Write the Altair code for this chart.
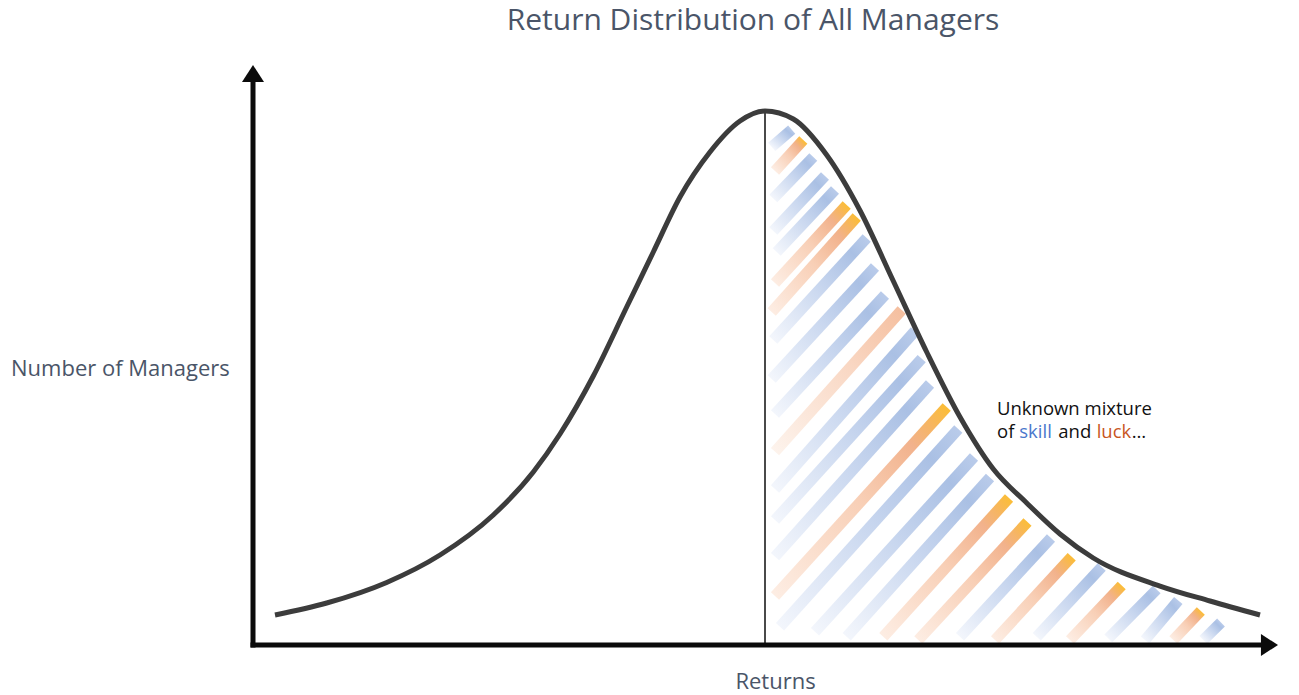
import altair as alt
import pandas as pd

# ---- data ----
curve_return = [2.2, 7.37, 13.37, 18.7, 24.03, 28.03, 30.7, 34.03, 37.37, 40.03, 42.7, 45.7, 48.7, 51.2,
                54.03, 57.37, 60.7, 64.03, 67.37, 70.7, 74.03, 77.37, 80.7, 84.03, 90.7, 95.7, 100.7]
curve_count = [5.0, 7.0, 10.43, 15.0, 21.67, 28.83, 35.17, 44.83, 56.33, 65.5, 74.67, 82.17, 87.33, 89.0,
               87.67, 81.67, 72.42, 60.67, 48.83, 38.0, 29.33, 23.67, 18.5, 14.5, 9.83, 7.33, 5.0]

median_return = 51.2
median_count = 89.0

stripe_kind = ["skill", "luck", "skill", "skill", "skill", "luck", "luck", "skill", "skill", "skill",
               "luck_faded", "skill", "skill", "skill", "luck", "skill", "skill", "skill", "luck", "luck",
               "skill", "luck", "skill", "luck", "skill", "skill", "luck", "skill"]
stripe_x1 = [51.87, 52.2, 52.03, 52.03, 52.37, 52.2, 51.87, 52.03, 51.87, 52.2, 52.2, 52.2, 52.2, 52.2,
             52.2, 52.7, 56.2, 59.37, 63.03, 66.53, 70.7, 74.2, 78.37, 81.7, 85.53, 89.2, 92.03, 95.03]
stripe_y1 = [83.03, 79.0, 74.42, 69.0, 65.5, 60.33, 55.5, 50.83, 44.33, 38.5, 32.23, 26.0, 20.83, 14.73,
             8.17, 3.05, 2.22, 1.38, 1.38, 0.83, 1.38, 0.83, 1.38, 0.83, 1.12, 0.83, 0.83, 0.83]
stripe_x2 = [53.87, 55.03, 56.03, 57.2, 58.2, 59.37, 60.37, 61.37, 62.2, 63.2, 64.87, 66.2, 66.87, 67.7,
             69.37, 70.53, 72.1, 73.7, 75.6, 77.45, 79.8, 81.87, 84.87, 86.87, 90.37, 92.53, 94.78, 96.8]
stripe_y2 = [85.9, 84.17, 81.33, 78.17, 75.83, 73.33, 71.33, 67.83, 63.0, 58.33, 55.83, 52.33, 47.73, 43.5,
             39.67, 36.0, 31.33, 27.92, 24.5, 20.5, 17.83, 14.72, 13.0, 9.92, 9.25, 7.42, 5.67, 3.75]

# annotation words
note_text = ["Unknown mixture", "of", "skill", "and", "luck", "\u2026"]
note_x = [74.4, 74.4, 76.63, 80.53, 84.37, 87.87]
note_y = [38.33, 34.45, 34.45, 34.45, 34.45, 34.45]
note_color = ["#111111", "#111111", "#4a78cc", "#111111", "#c8561e", "#111111"]

title_text = "Return Distribution of All Managers"
y_title = "Number of Managers"
x_title = "Returns"

# ---- tables ----
curve_df = pd.DataFrame({"ret": curve_return, "cnt": curve_count})
stripes = pd.DataFrame({"kind": stripe_kind, "x1": stripe_x1, "y1": stripe_y1,
                        "x2": stripe_x2, "y2": stripe_y2})
notes = pd.DataFrame({"t": note_text, "x": note_x, "y": note_y, "c": note_color})
axes_df = pd.DataFrame({"x": [0.0, -0.25], "y": [-0.42, 0.0], "x2": [0.0, 101.5], "y2": [94.5, 0.0]})
median_df = pd.DataFrame({"x": [median_return], "y": [0.0], "y2": [median_count]})
yarrow = pd.DataFrame({"x": [0.0], "y": [96.67]})
xarrow = pd.DataFrame({"x": [102.5], "y": [0.0]})
labels_c = pd.DataFrame({"t": [title_text, x_title], "x": [50.0, 52.25], "y": [102.5, -7.3],
                         "s": [30, 22]})
labels_l = pd.DataFrame({"t": [y_title], "x": [-24.2], "y": [44.83], "s": [22]})

XS = alt.Scale(domain=[0, 100], nice=False, zero=False)
YS = alt.Scale(domain=[0, 98], nice=False, zero=False)

def xe(f):
    return alt.X(f"{f}:Q", scale=XS, axis=None)

def ye(f):
    return alt.Y(f"{f}:Q", scale=YS, axis=None)

def grad(stops):
    return alt.LinearGradient(
        gradient="linear",
        stops=[alt.GradientStop(offset=o, color=c) for o, c in stops],
        x1=0, y1=1, x2=1, y2=0,
    )

skill_grad = grad([(0, "#f3f6fc"), (0.5, "#c9d7ef"), (0.85, "#aac0e4"), (1, "#b9cbea")])
luck_grad = grad([(0, "#fdede3"), (0.5, "#f8cfb6"), (0.8, "#f2b28c"), (0.9, "#f6b564"), (1, "#fbbd37")])
faded_grad = grad([(0, "#fdf3ec"), (0.6, "#f9d7c3"), (1, "#f5bf9f")])

layers = []
for kind, g in [("skill", skill_grad), ("luck", luck_grad), ("luck_faded", faded_grad)]:
    layers.append(
        alt.Chart(stripes[stripes["kind"] == kind])
        .mark_rule(stroke=g, strokeWidth=11, strokeCap="butt")
        .encode(x=xe("x1"), y=ye("y1"), x2="x2:Q", y2="y2:Q")
    )

median_rule = alt.Chart(median_df).mark_rule(color="#4a4a4a", strokeWidth=2).encode(
    x=xe("x"), y=ye("y"), y2="y2:Q")

curve = alt.Chart(curve_df).mark_line(color="#3c3c3c", strokeWidth=5, interpolate="monotone",
                                      strokeCap="butt").encode(
    x=xe("ret"), y=ye("cnt"), order="ret:Q")

axes = alt.Chart(axes_df).mark_rule(color="#0b0b0b", strokeWidth=5, strokeCap="butt").encode(
    x=xe("x"), y=ye("y"), x2="x2:Q", y2="y2:Q")

yhead = alt.Chart(yarrow).mark_point(shape="M0,0L1,1.55L-1,1.55Z", size=484, filled=True,
                                     color="#0b0b0b", opacity=1, strokeWidth=0).encode(
    x=xe("x"), y=ye("y"))
xhead = alt.Chart(xarrow).mark_point(shape="M0,0L-1.55,-1L-1.55,1Z", size=484, filled=True,
                                     color="#0b0b0b", opacity=1, strokeWidth=0).encode(
    x=xe("x"), y=ye("y"))

note_layer = alt.Chart(notes).mark_text(align="left", baseline="alphabetic", font="Open Sans",
                                        fontSize=18.5).encode(
    x=xe("x"), y=ye("y"), text="t:N", color=alt.Color("c:N", scale=None))

lab_c = alt.Chart(labels_c).mark_text(align="center", baseline="alphabetic", font="Open Sans",
                                      color="#4a5568").encode(
    x=xe("x"), y=ye("y"), text="t:N", size=alt.Size("s:Q", scale=None))
lab_l = alt.Chart(labels_l).mark_text(align="left", baseline="alphabetic", font="Open Sans",
                                      color="#4a5568").encode(
    x=xe("x"), y=ye("y"), text="t:N", size=alt.Size("s:Q", scale=None))

chart = alt.layer(*layers, median_rule, curve, axes, yhead, xhead, note_layer, lab_c, lab_l).properties(
    width=1000, height=588,
    autosize=alt.AutoSizeParams(type="none"),
    padding={"left": 245, "top": 49, "right": 30, "bottom": 56},
).configure_view(stroke=None)

chart.save("out.html", embed_options={"renderer": "svg", "actions": False})
